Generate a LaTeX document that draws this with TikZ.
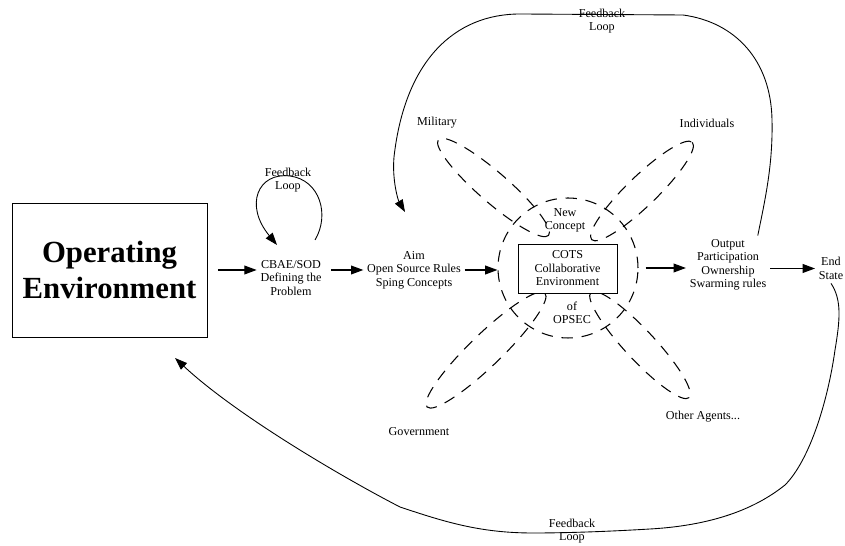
\documentclass[tikz,border=0pt]{standalone}
\usepackage{fontspec}
\setmainfont{Liberation Serif}
\usetikzlibrary{arrows.meta}

\begin{document}
\begin{tikzpicture}[
        x=0.02cm, y=-0.02cm,
        every node/.style={align=center},
        lbl/.style={font=\fontsize{6.9}{7.7}\selectfont, inner sep=2pt},
        flow/.style={-{Triangle[length=7pt,width=5pt]}, line width=0.7pt},
        fback/.style={-{Triangle[length=7pt,width=5pt]}, line width=0.5pt},
        petal/.style={dash pattern=on 6.5pt off 5pt, line width=0.6pt}
    ]
        \useasboundingbox (0,0) rectangle (845,546);

        % Main chain
        \node[draw, line width=0.5pt, minimum width=3.9cm, minimum height=2.68cm, inner sep=0pt,
              font=\fontsize{17.5}{21}\selectfont\bfseries] (openv) at (109.5,270) {Operating\\Environment};
        \node[lbl] (cbae) at (291,278) {CBAE/SOD\\Defining the\\Problem};
        \node[lbl] (aim) at (414,270) {Aim\\Open Source Rules\\Sping Concepts};
        \node[lbl] (output) at (728,265) {Output\\Participation\\Ownership\\Swarming rules};
        \node[lbl] (endst) at (831,268.5) {End\\State};

        % Agents round the collaborative environment
        \draw[petal, rotate around={-41:(493.5,187.5)}] (493.5,187.5) ellipse [x radius=73, y radius=15];
        \draw[petal, rotate around={44:(642,191)}] (642,191) ellipse [x radius=70, y radius=15];
        \draw[petal, rotate around={-47:(640,345)}] (640,345) ellipse [x radius=72, y radius=15];
        \draw[petal, rotate around={44:(486,350)}] (486,350) ellipse [x radius=82, y radius=16];
        \node[draw, circle, petal, minimum size=2.8cm, inner sep=0pt] (collab) at (568,268) {};
        \node[draw, fill=white, line width=0.5pt, minimum width=1.98cm, minimum height=0.98cm, lbl] (cots) at (567.5,268.5) {COTS\\Collaborative\\Environment};
        \node[lbl] (newcon) at (565,220.5) {New\\Concept};
        \node[lbl] (opsec) at (572,313) {of\\OPSEC};

        \node[lbl] (military) at (437,123) {Military};
        \node[lbl] (indiv) at (707,123) {Individuals};
        \node[lbl] (govt) at (419,432) {Government};
        \node[lbl] (others) at (703,417) {Other Agents...};

        % Arrows
        \draw[flow, shorten <=6pt] (openv) -- (openv -| cbae.west);
        \draw[flow, shorten <=3.5pt] (cbae.east |- aim) -- (aim);
        \draw[flow] (aim) -- (aim -| collab.west);
        \draw[flow, shorten <=4pt] (collab) -- (collab -| output.west);
        \draw[flow] (output.east |- endst) -- (endst);

        % Feedback loops
        \coordinate (smalla) at (315,240);
        \coordinate (smallb) at (277,245);
        \coordinate (topin) at (405,212);
        \coordinate (botin) at (175,358);
        \node[lbl] (fbsmall) at (288,180) {Feedback\\Loop};
        \node[lbl] (fbtop) at (602,21) {Feedback\\Loop};
        \node[lbl] (fbbot) at (572,531) {Feedback\\Loop};

        \draw[fback] (smalla) .. controls (330,215) and (320,180) .. (290,176)
            .. controls (258,172) and (244,205) .. (smallb);
        \draw[fback] ([xshift=-7pt]output.north east) .. controls (765,200) and (773,165) .. (772,120)
            .. controls (771,60) and (735,22) .. (683,15)
            -- (520,14)
            .. controls (455,14) and (405,60) .. (394,157)
            .. controls (392,180) and (398,200) .. (topin);
        \draw[fback] (endst.south) .. controls (842,300) and (840,320) .. (835,350)
            .. controls (828,400) and (810,460) .. (785,485)
            .. controls (760,505) and (720,525) .. (650,529)
            .. controls (600,532) and (560,533) .. (533,533)
            .. controls (480,533) and (445,522) .. (400,507)
            .. controls (340,476) and (235,414) .. (botin);
    \end{tikzpicture}
\end{document}
